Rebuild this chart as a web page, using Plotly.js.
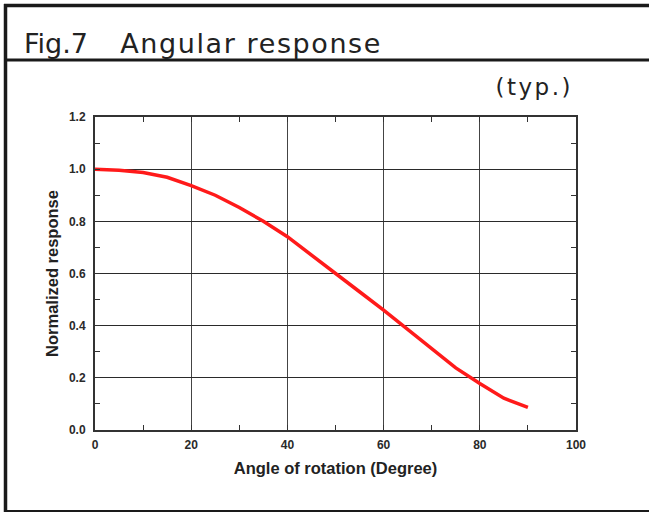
<!DOCTYPE html>
<html>
<head>
<meta charset="utf-8">
<script src="https://cdn.plot.ly/plotly-3.0.1.min.js"></script>
<style>
html,body{margin:0;padding:0;background:#fff;}
#chart{width:649px;height:512px;}
</style>
</head>
<body>
<div id="chart"></div>
<script>
// ---- data ----
const angleDeg = [0, 5, 10, 15, 20, 25, 30, 35, 40, 45, 50, 55, 60, 65, 70, 75, 80, 85, 90];
const normalizedResponse = [1.0, 0.996, 0.987, 0.969, 0.937, 0.90, 0.853, 0.80, 0.741, 0.672, 0.60, 0.53, 0.46, 0.385, 0.31, 0.238, 0.178, 0.122, 0.087];
const xTickVals = [0, 20, 40, 60, 80, 100];
const yTickVals = [0.0, 0.2, 0.4, 0.6, 0.8, 1.0, 1.2];
const figLabel = "Fig.7";
const figTitle = "Angular response";
const typLabel = "(typ.)";
const xTitle = "Angle of rotation (Degree)";
const yTitle = "Normalized response";

// ---- layout geometry (pixels) ----
const W = 649, H = 512;
const L = 95, R = 73, T = 117, B = 82;
const pw = W - L - R, ph = H - T - B;
const px = v => (v - L) / pw;
const py = v => (H - B - v) / ph;

const dark = '#1a1a1a';
const tickFont = {family: 'Liberation Sans, Arial, sans-serif', size: 12, color: '#2a2a2a', weight: 'bold'};
const titleFont = {family: 'Liberation Sans, Arial, sans-serif', size: 16.5, color: '#222', weight: 'bold'};
const headFont = {family: 'DejaVu Sans, sans-serif', size: 27, color: '#222'};

const trace = {
  x: angleDeg, y: normalizedResponse, type: 'scatter', mode: 'lines',
  line: {color: '#ff1a1a', width: 3.5}, hoverinfo: 'skip', cliponaxis: false
};

const layout = {
  width: W, height: H,
  margin: {l: L, r: R, t: T, b: B, pad: 0},
  paper_bgcolor: '#fff', plot_bgcolor: '#fff',
  showlegend: false,
  xaxis: {
    range: [0, 100], tickvals: xTickVals, ticktext: xTickVals.map(String),
    showgrid: true, gridcolor: '#444', gridwidth: 1.2,
    zeroline: false, showline: true, linecolor: '#333', linewidth: 2, mirror: 'allticks',
    ticks: 'inside', ticklen: 0, tickcolor: '#333', tickfont: tickFont, ticklabelstandoff: 3,
    minor: {dtick: 10, tick0: 0, ticks: 'inside', ticklen: 5, tickcolor: '#333', tickwidth: 1, showgrid: false},
    title: {text: xTitle, font: titleFont, standoff: 11},
    fixedrange: true
  },
  yaxis: {
    range: [0, 1.2], tickvals: yTickVals, ticktext: yTickVals.map(v => v.toFixed(1)),
    showgrid: true, gridcolor: '#2a2a2a', gridwidth: 1,
    zeroline: false, showline: true, linecolor: '#333', linewidth: 2, mirror: 'allticks',
    ticks: 'inside', ticklen: 0, tickcolor: '#333', tickfont: tickFont, ticklabelstandoff: 5,
    minor: {dtick: 0.1, tick0: 0, ticks: 'inside', ticklen: 5, tickcolor: '#333', tickwidth: 1, showgrid: false},
    title: {text: yTitle, font: titleFont, standoff: 6},
    fixedrange: true
  },
  shapes: [
    {type: 'line', xref: 'paper', yref: 'paper', x0: px(4), x1: px(W), y0: py(5.5), y1: py(5.5), line: {color: dark, width: 3.5}},
    {type: 'line', xref: 'paper', yref: 'paper', x0: px(5.5), x1: px(5.5), y0: py(4), y1: py(H), line: {color: dark, width: 3.5}},
    {type: 'line', xref: 'paper', yref: 'paper', x0: px(5), x1: px(W), y0: py(60), y1: py(60), line: {color: dark, width: 3}},
    {type: 'line', xref: 'paper', yref: 'paper', x0: px(5), x1: px(W), y0: py(511), y1: py(511), line: {color: dark, width: 2}}
  ],
  annotations: [
    {text: figLabel, xref: 'paper', yref: 'paper', x: px(22), y: py(43), xanchor: 'left', yanchor: 'middle', showarrow: false, font: headFont},
    {text: figTitle, xref: 'paper', yref: 'paper', x: px(131), y: py(43), xanchor: 'left', yanchor: 'middle', showarrow: false, font: headFont},
    {text: typLabel, xref: 'paper', yref: 'paper', x: px(501), y: py(87), xanchor: 'left', yanchor: 'middle', showarrow: false, font: {family: 'DejaVu Sans, sans-serif', size: 23, color: '#222'}}
  ]
};

Plotly.newPlot('chart', [trace], layout, {displayModeBar: false, staticPlot: true}).then(() => {
  document.querySelectorAll('.annotation-text').forEach(t => {
    const s = t.textContent;
    if (s === figTitle) t.style.letterSpacing = '1.6px';
    if (s === typLabel) t.style.letterSpacing = '2.5px';
  });
});
</script>
</body>
</html>
